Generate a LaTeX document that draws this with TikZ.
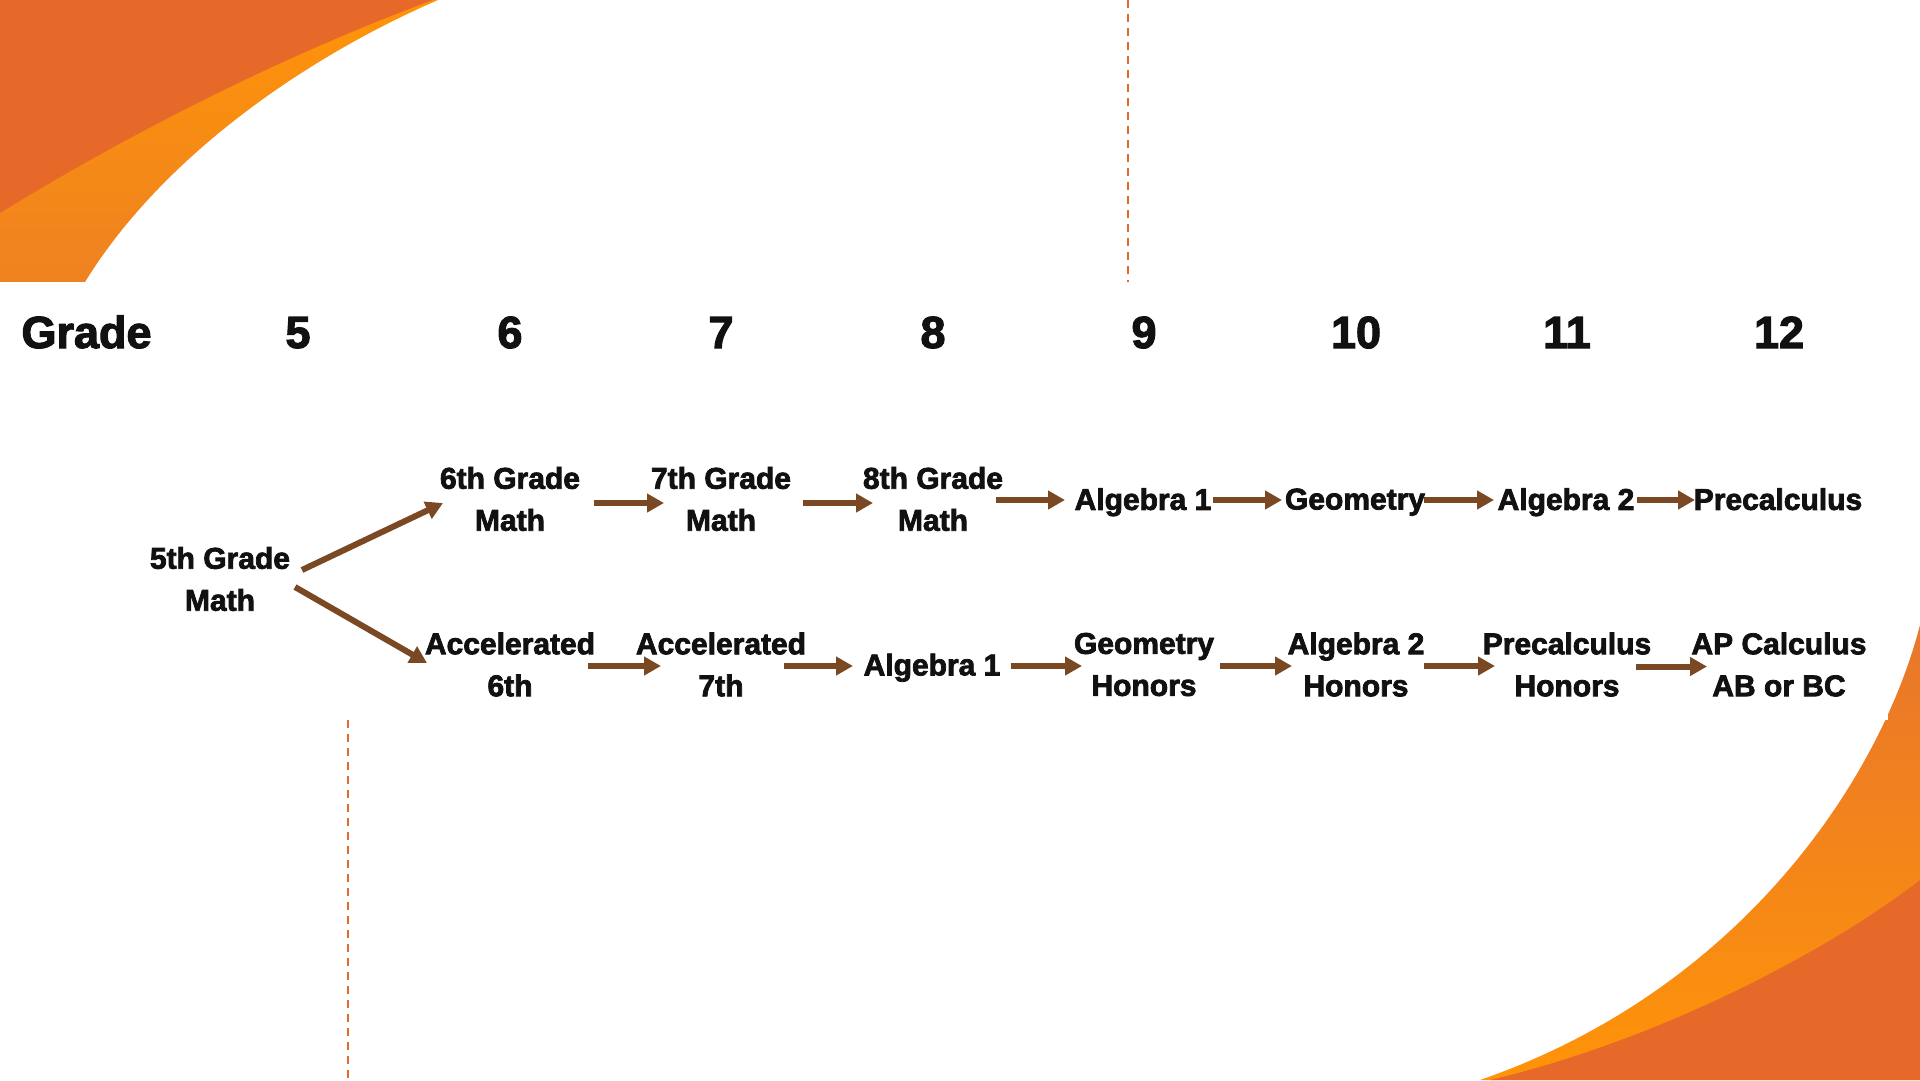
\documentclass[tikz,border=0pt]{standalone}
\usepackage{fontspec}
\setmainfont{Liberation Sans}[BoldFeatures={FakeBold=2.5}]
\usetikzlibrary{arrows.meta}
\definecolor{odark}{HTML}{E6692A}
\definecolor{olightA}{HTML}{FF9408}
\definecolor{olightB}{HTML}{EE8221}
\definecolor{olightC}{HTML}{E8762C}
\definecolor{brownarr}{HTML}{7A4823}
\definecolor{txt}{HTML}{111111}
\begin{document}
\begin{tikzpicture}[x=1pt,y=-1pt,
  lbl/.style={font=\bfseries\fontsize{30}{42}\selectfont, align=center, inner sep=0pt, text=txt},
  one/.style={lbl, text depth=0pt},
  hdr/.style={font=\bfseries\fontsize{45}{50}\selectfont, anchor=base, inner sep=0pt, text=txt},
  arr/.style={draw=brownarr, line width=6pt, -{Triangle[width=18pt,length=17pt]}},
  guide/.style={draw=odark, line width=2pt, dash pattern=on 8pt off 6pt}
]
\useasboundingbox (0,0) rectangle (1920,1080);
\begin{scope}
\clip (0,0) rectangle (1920,1080);
% top-left decoration
\shade[top color=olightA, bottom color=olightB] (0,0) -- (438,0) .. controls (300,60) and (160,160) .. (85,282) -- (0,282) -- cycle;
\fill[odark] (0,0) -- (433,0) .. controls (270,60) and (110,145) .. (0,213) -- cycle;
% bottom-right decoration
\shade[top color=olightC, bottom color=olightA] (1920,625) .. controls (1880,780) and (1740,990) .. (1480,1080) -- (1920,1080) -- cycle;
\fill[odark] (1920,880) .. controls (1830,950) and (1660,1040) .. (1490,1080) -- (1920,1080) -- cycle;
% dashed guides
\draw[guide] (1128,0) -- (1128,282);
\draw[guide] (348,720) -- (348,1080);
% picture area
\fill[white] (0,282) rectangle (1888,720);
\end{scope}

% header
\node[hdr] (hg) at (86.5,348) {Grade};
\node[hdr] (h5) at (298,348) {5};
\node[hdr] (h6) at (510,348) {6};
\node[hdr] (h7) at (721,348) {7};
\node[hdr] (h8) at (933,348) {8};
\node[hdr] (h9) at (1144,348) {9};
\node[hdr] (h10) at (1356,348) {10};
\node[hdr] (h11) at (1567,348) {11};
\node[hdr] (h12) at (1779,348) {12};

% nodes
\node[lbl] (m5) at (220,579) {5th Grade\\Math};
\node[lbl] (t6) at (510,499) {6th Grade\\Math};
\node[lbl] (t7) at (721,499) {7th Grade\\Math};
\node[lbl] (t8) at (933,499) {8th Grade\\Math};
\node[one] (t9) at (1143,499) {Algebra 1};
\node[one] (t10) at (1355,499) {Geometry};
\node[one] (t11) at (1566,499) {Algebra 2};
\node[one] (t12) at (1778,499) {Precalculus};
\node[lbl] (b6) at (510,664.5) {Accelerated\\6th};
\node[lbl] (b7) at (721,664.5) {Accelerated\\7th};
\node[one] (b8) at (932,664.5) {Algebra 1};
\node[lbl] (b9) at (1144,664.5) {Geometry\\Honors};
\node[lbl] (b10) at (1356,664.5) {Algebra 2\\Honors};
\node[lbl] (b11) at (1567,664.5) {Precalculus\\Honors};
\node[lbl] (b12) at (1779,664.5) {AP Calculus\\AB or BC};

% arrows
\draw[arr] ([shift={(82,-9)}]m5.center) -- ([shift={(-67,4)}]t6.center);
\draw[arr] ([shift={(75,8)}]m5.center) -- ([shift={(-83,-1.5)}]b6.center);
\draw[arr] ([shift={(84,4)}]t6.center) -- ([shift={(-57,4)}]t7.center);
\draw[arr] ([shift={(82,4)}]t7.center) -- ([shift={(-60,4)}]t8.center);
\draw[arr] ([shift={(63,1)}]t8.center) -- ([shift={(-78,1)}]t9.center);
\draw[arr] ([shift={(70,1)}]t9.center) -- ([shift={(-73,1)}]t10.center);
\draw[arr] ([shift={(69,1)}]t10.center) -- ([shift={(-72,1)}]t11.center);
\draw[arr] ([shift={(71,1)}]t11.center) -- ([shift={(-83,1)}]t12.center);
\draw[arr] ([shift={(78,1.5)}]b6.center) -- ([shift={(-60,1.5)}]b7.center);
\draw[arr] ([shift={(63,1.5)}]b7.center) -- ([shift={(-79,1.5)}]b8.center);
\draw[arr] ([shift={(79,1.5)}]b8.center) -- ([shift={(-62,1.5)}]b9.center);
\draw[arr] ([shift={(76,1.5)}]b9.center) -- ([shift={(-64,1.5)}]b10.center);
\draw[arr] ([shift={(68,1.5)}]b10.center) -- ([shift={(-72,1.5)}]b11.center);
\draw[arr] ([shift={(69,2)}]b11.center) -- ([shift={(-72,2)}]b12.center);
\end{tikzpicture}
\end{document}
